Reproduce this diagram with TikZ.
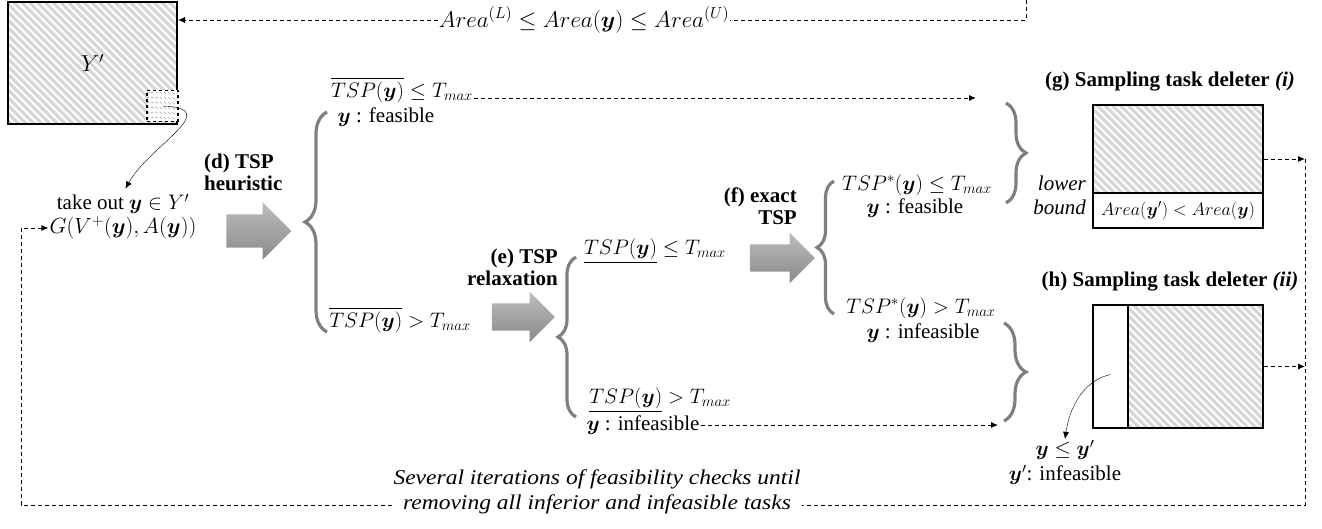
\RequirePackage{fix-cm}
\documentclass[tikz,border=0pt]{standalone}
\usepackage{amsmath}
\usepackage{fontspec}
\setmainfont{Liberation Serif}
\newfontfamily\widefont[FakeStretch=1.12]{Liberation Serif}
\usepackage{xcolor}
\usepackage{tikz}
\usetikzlibrary{arrows.meta,positioning,shapes.arrows,decorations.pathreplacing,decorations.pathmorphing,patterns.meta}

\definecolor{bracegray}{RGB}{128,128,128}
\definecolor{hatchgray}{RGB}{214,214,214}

\newcommand{\vy}{\boldsymbol{y}}

\begin{document}
\begin{tikzpicture}[
    x=1pt, y=-1pt,
    txt/.style={
        font=\fontsize{21}{24}\selectfont,
        align=center,
        inner sep=1pt
    },
    headtxt/.style={
        txt,
        font=\fontsize{21}{22}\selectfont\bfseries
    },
    hatch/.style={
        rectangle,
        draw=black,
        line width=1.4pt,
        preaction={fill=hatchgray},
        pattern={Lines[angle=-45,distance=5.5pt,line width=2pt]},
        pattern color=white,
        inner sep=0pt
    },
    plainbox/.style={
        rectangle,
        draw=black,
        line width=1.4pt,
        fill=white,
        inner sep=0pt
    },
    fatarrow/.style={
        single arrow,
        top color=black!26,
        bottom color=black!46,
        inner xsep=0pt
    },
    curly/.style={
        decorate,
        decoration={brace,amplitude=#1},
        draw=bracegray,
        line width=3.2pt
    },
    dashline/.style={
        dash pattern=on 4pt off 3pt,
        line width=0.9pt
    },
    arrow/.style={
        -{Latex[length=7pt,width=6pt]}
    }
]

\useasboundingbox (0,0) rectangle (1322,529);

% ---------------- SOURCE SET ----------------

\node[hatch, txt, font=\fontsize{23}{26}\selectfont,
    minimum width=169pt, minimum height=122pt] (ybox)
    at (92.5,63) {$Y'$};

\node[plainbox, dashed, minimum size=31pt,
    path picture={
        \foreach \k in {-12,-7,...,13}
            \draw[black!35, line width=0.6pt, decorate,
                decoration={snake,amplitude=1pt,segment length=4pt}]
                ([yshift=\k pt]path picture bounding box.west)
                -- ([yshift=\k pt]path picture bounding box.east);
    }] (pick) at (162.5,106) {};

\node[txt, font=\fontsize{23}{26}\selectfont] (area) at (584,20)
    {$Area^{(L)} \le Area(\vy) \le Area^{(U)}$};

\node[txt] (takeout) at (123,204) {take out $\vy \in Y'$};
\node[txt, font=\fontsize{22}{24}\selectfont] (graph) at (123,228)
    {$G(V^{+}(\vy),A(\vy))$};

% ---------------- HEURISTIC ----------------

\node[headtxt, align=left, anchor=west] (dlabel) at (203,172)
    {(d) TSP\\heuristic};

\node[fatarrow, minimum height=65pt, inner ysep=16.5pt,
    single arrow head extend=12pt] (darrow) at (250.5,231) {};

\node[txt] (hfeas) at (402,90) {$\overline{TSP(\vy)} \le T_{max}$};
\node[txt] (hfeasy) at (386,117) {$\vy$ : feasible};
\node[txt] (hinf) at (400,320) {$\overline{TSP(\vy)} > T_{max}$};

% ---------------- RELAXATION ----------------

\node[headtxt, align=right, anchor=east] (elabel) at (559,267)
    {(e) TSP\\relaxation};

\node[fatarrow, minimum height=63pt, inner ysep=13.5pt,
    single arrow head extend=11.5pt] (earrow) at (516.5,317) {};

\node[txt] (rfeas) at (655,251) {$\underline{TSP(\vy)} \le T_{max}$};
\node[txt] (rinf) at (660,400) {$\underline{TSP(\vy)} > T_{max}$};
\node[txt] (rinfy) at (643,425) {$\vy$ : infeasible};

% ---------------- EXACT ----------------

\node[headtxt, align=right, anchor=east] (flabel) at (798,206)
    {(f) exact\\TSP};

\node[fatarrow, minimum height=65pt, inner ysep=13.5pt,
    single arrow head extend=11.5pt] (farrow) at (775.5,258) {};

\node[txt] (xfeas) at (917,185) {$TSP^{*}(\vy) \le T_{max}$};
\node[txt] (xfeasy) at (915,208) {$\vy$ : feasible};
\node[txt] (xinf) at (921,308) {$TSP^{*}(\vy) > T_{max}$};
\node[txt] (xinfy) at (923,333) {$\vy$ : infeasible};

% ---------------- DELETERS ----------------

\node[headtxt] (gtitle) at (1170,82)
    {(g) Sampling task deleter \textit{(i)}};
\node[hatch, minimum width=170pt, minimum height=88pt] (gtop)
    at (1178,149) {};
\node[plainbox, txt, font=\fontsize{18}{20}\selectfont, inner sep=0pt,
    minimum width=170pt, minimum height=35pt]
    (gbot) at (1178,210.5) {$Area(\vy') < Area(\vy)$};
\node[txt, font=\fontsize{21}{24}\selectfont\itshape, align=right,
    anchor=east] (lbound) at (1087,195) {lower\\bound};

\node[headtxt] (htitle) at (1170,282)
    {(h) Sampling task deleter \textit{(ii)}};
\node[plainbox, minimum width=35pt, minimum height=123pt] (hleft)
    at (1110.5,366.5) {};
\node[hatch, minimum width=135pt, minimum height=123pt] (hbox)
    at (1195.5,366.5) {};
\node[txt] (dom) at (1065,450) {$\vy \le \vy'$};
\node[txt] (domy) at (1065,475) {$\vy'$: infeasible};

\node[txt, font=\fontsize{21}{25}\selectfont\widefont\itshape] (iter)
    at (597,492)
    {Several iterations of feasibility checks until\\
     removing all inferior and infeasible tasks};

% ---------------- BRACES ----------------

\draw[curly=22pt] (327,332) -- (327,112);
\draw[curly=18pt] (576,417) -- (576,257);
\draw[curly=17pt] (834,314) -- (834,181);
\draw[curly=20pt] (1006,103) -- (1006,203);
\draw[curly=22pt] (1004,323) -- (1004,421);

% ---------------- CONNECTORS ----------------

\coordinate (areatop) at (1026,0);
\coordinate (gin) at (976,98);
\coordinate (hin) at (998,0);
\coordinate (looptr) at (1305,159);
\coordinate (loopbr) at (1305,505);
\coordinate (loopbl) at (21,505);

\draw[dashline] (areatop) |- (area.east);
\draw[dashline,arrow] (area.west) -- (area.west -| ybox.east);

\draw[arrow, shorten >=5pt] (pick.center)
    .. controls (225,108) and (150,145) .. (takeout.north);

\draw[dashline,arrow] ([yshift=-8pt]hfeas.east) -- (gin);
\draw[dashline,arrow] (rinfy.east) -- (rinfy.east -| hin);

\draw[arrow] ([yshift=-8pt]hleft.center)
    .. controls (1085,380) and (1070,405) .. (dom.north);

\draw[dashline,arrow] ([yshift=-10pt]gtop.east) -- (looptr);
\draw[dashline,arrow] (hbox.east) -- (hbox.east -| looptr);
\draw[dashline] (looptr) -- (loopbr) -- (iter.east |- loopbr);
\draw[dashline,arrow] (iter.west |- loopbl) -- (loopbl) |- (graph.west);

\end{tikzpicture}
\end{document}
